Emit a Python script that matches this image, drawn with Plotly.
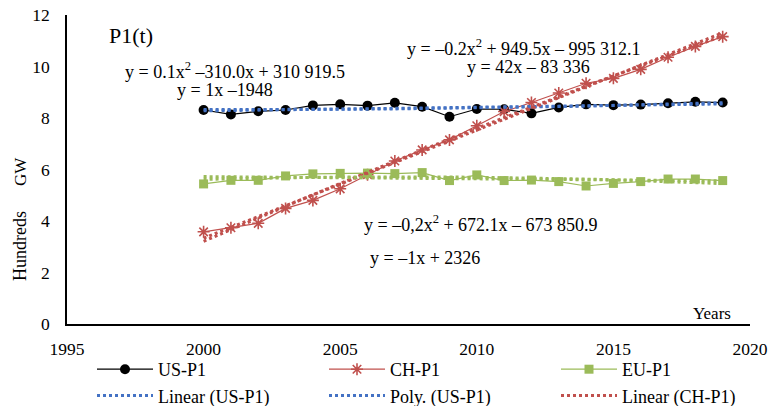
import numpy as np
import plotly.graph_objects as go

years = list(range(2000, 2020))
us_p1 = [8.31, 8.14, 8.26, 8.31, 8.49, 8.53, 8.48, 8.59, 8.44, 8.05,
         8.35, 8.34, 8.18, 8.41, 8.53, 8.50, 8.52, 8.57, 8.63, 8.60]
ch_p1 = [3.58, 3.74, 3.91, 4.49, 4.80, 5.25, 5.80, 6.33, 6.76, 7.15,
         7.70, 8.25, 8.60, 8.97, 9.35, 9.54, 9.89, 10.36, 10.78, 11.16]
eu_p1 = [5.44, 5.58, 5.58, 5.75, 5.83, 5.85, 5.86, 5.84, 5.88, 5.57,
         5.79, 5.57, 5.59, 5.53, 5.36, 5.46, 5.53, 5.63, 5.63, 5.57]

equations = [
    "y = 0.1x<sup>2</sup> –310.0x + 310 919.5",
    "y = 1x –1948",
    "y = –0.2x<sup>2</sup> + 949.5x – 995 312.1",
    "y = 42x – 83 336",
    "y = –0,2x<sup>2</sup> + 672.1x – 673 850.9",
    "y = –1x + 2326",
]

FONT = "Liberation Serif"
BLACK = "#000000"
RED = "#C0504D"
GREEN = "#9BBB59"
BLUE = "#4472C4"

yrs = np.array(years, dtype=float)
xr = yrs - 2000.0


def fit(vals, deg):
    c = np.polyfit(xr, np.array(vals), deg)
    return list(np.polyval(c, xr))


fig = go.Figure()

# data series
fig.add_trace(go.Scatter(x=years, y=us_p1, name="US-P1", mode="lines+markers",
                         line=dict(color=BLACK, width=1.2),
                         marker=dict(symbol="circle", size=10, color=BLACK),
                         legend="legend", legendgroup="a"))
fig.add_trace(go.Scatter(x=years, y=ch_p1, name="CH-P1", mode="lines+markers",
                         line=dict(color=RED, width=1.2),
                         marker=dict(symbol="asterisk-open", size=10,
                                     line=dict(color=RED, width=1.6)),
                         legend="legend2", legendgroup="c"))
fig.add_trace(go.Scatter(x=years, y=eu_p1, name="EU-P1", mode="lines+markers",
                         line=dict(color=GREEN, width=1.2),
                         marker=dict(symbol="square", size=9, color=GREEN),
                         legend="legend3", legendgroup="e"))

# trendlines
fig.add_trace(go.Scatter(x=years, y=fit(us_p1, 1), name="Linear (US-P1)", mode="lines",
                         line=dict(color=BLUE, width=3, dash="dot"),
                         legend="legend", legendgroup="b"))
fig.add_trace(go.Scatter(x=years, y=fit(us_p1, 2), name="Poly. (US-P1)", mode="lines",
                         line=dict(color=BLUE, width=3, dash="dot"),
                         legend="legend2", legendgroup="d"))
fig.add_trace(go.Scatter(x=years, y=fit(ch_p1, 1), name="Linear (CH-P1)", mode="lines",
                         line=dict(color=RED, width=3, dash="dot"),
                         legend="legend3", legendgroup="f"))
fig.add_trace(go.Scatter(x=years, y=fit(ch_p1, 2), name="Poly. (CH-P1)", mode="lines",
                         line=dict(color=RED, width=3, dash="dot"), showlegend=False))
fig.add_trace(go.Scatter(x=years, y=fit(eu_p1, 1), name="Linear (EU-P1)", mode="lines",
                         line=dict(color=GREEN, width=3, dash="dot"), showlegend=False))
fig.add_trace(go.Scatter(x=years, y=fit(eu_p1, 2), name="Poly. (EU-P1)", mode="lines",
                         line=dict(color=GREEN, width=3, dash="dot"), showlegend=False))

L, R, T, B = 67, 20, 15, 82
W, H = 770, 406
pw, ph = W - L - R, H - T - B


def px(x):
    return (x - L) / pw


def py(y):
    return (H - B - y) / ph


ann = []


def add_text(text, x, y, size=18, xanchor="center", angle=0):
    ann.append(dict(text=text, x=px(x), y=py(y), xref="paper", yref="paper",
                    showarrow=False, xanchor=xanchor, yanchor="middle",
                    textangle=angle, font=dict(family=FONT, size=size, color="#000")))


add_text("P1(t)", 107, 35, size=22, xanchor="left")
add_text(equations[0], 123, 70, xanchor="left")
add_text(equations[1], 175, 90, xanchor="left")
add_text(equations[2], 405, 47, xanchor="left")
add_text(equations[3], 465, 67, xanchor="left")
add_text(equations[4], 362, 223, xanchor="left")
add_text(equations[5], 368, 258, xanchor="left")
add_text("Years", 712, 313, size=17)
add_text("Hundreds", 20, 246, size=18, angle=-90)
add_text("GW", 20, 172, size=17, angle=-90)

legend_common = dict(orientation="v", yanchor="top", xanchor="left",
                     y=py(351), font=dict(family=FONT, size=18, color="#000"),
                     bgcolor="rgba(0,0,0,0)", tracegroupgap=0, traceorder="grouped",
                     itemwidth=56)

fig.update_layout(
    width=W, height=H,
    margin=dict(l=L, r=R, t=T, b=B, pad=0, autoexpand=False),
    paper_bgcolor="white", plot_bgcolor="white",
    font=dict(family=FONT, size=18, color="#000"),
    annotations=ann,
    legend=dict(legend_common, x=px(92)),
    legend2=dict(legend_common, x=px(324)),
    legend3=dict(legend_common, x=px(556)),
    xaxis=dict(range=[1995, 2020], dtick=5, tick0=1995, showgrid=False,
               zeroline=False, showline=True, linecolor="#000", linewidth=1.5,
               ticks="", ticklabelstandoff=8, automargin=False,
               tickfont=dict(family=FONT, size=17.5, color="#000")),
    yaxis=dict(range=[0, 12], dtick=2, showgrid=False, zeroline=False,
               showline=True, linecolor="#000", linewidth=1.5,
               ticks="", ticklabelstandoff=12, automargin=False,
               tickfont=dict(family=FONT, size=17.5, color="#000")),
    showlegend=True,
)

fig.write_html("out.html", config={"displayModeBar": False},
               post_script="document.body.style.margin='0px';document.body.style.overflow='hidden';")
